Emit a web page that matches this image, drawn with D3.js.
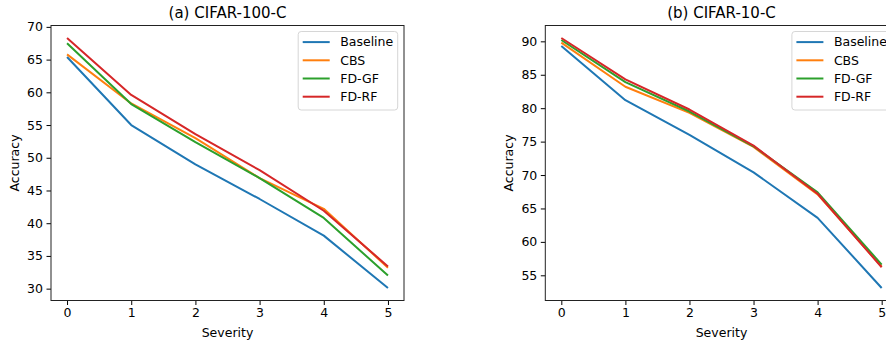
<!DOCTYPE html>
<html lang="en">
  <head>
    <meta charset="UTF-8" />
    <title>severity</title>
    <script src="https://cdn.jsdelivr.net/npm/d3@7/dist/d3.min.js"></script>
    <style>
      body { margin: 0; background: #fff; }
      text { font-family: "DejaVu Sans", sans-serif; fill: #000; }
    </style>
  </head>
  <body>
    <div id="wrapper"></div>
    <script>
      // values
      const severity = [0, 1, 2, 3, 4, 5];
      const seriesNames = ["Baseline", "CBS", "FD-GF", "FD-RF"];
      const colors = ["#1f77b4", "#ff7f0e", "#2ca02c", "#d62728"];

      const cifar100Baseline = [65.4, 55.0, 49.0, 43.7, 38.1, 30.1];
      const cifar100CBS = [65.8, 58.3, 53.0, 46.9, 42.2, 33.2];
      const cifar100FDGF = [67.5, 58.2, 52.4, 46.9, 40.8, 32.0];
      const cifar100FDRF = [68.3, 59.6, 53.6, 48.1, 41.9, 33.4];

      const cifar10Baseline = [89.3, 81.2, 76.0, 70.4, 63.6, 53.1];
      const cifar10CBS = [89.8, 83.2, 79.3, 74.2, 67.1, 56.3];
      const cifar10FDGF = [90.2, 83.9, 79.5, 74.3, 67.4, 56.6];
      const cifar10FDRF = [90.5, 84.3, 79.8, 74.4, 67.2, 56.2];

      const ticks100 = [30, 35, 40, 45, 50, 55, 60, 65, 70];
      const ticks10 = [55, 60, 65, 70, 75, 80, 85, 90];

      const width = 886;
      const height = 343;

      const svg = d3
        .select("#wrapper")
        .append("svg")
        .attr("width", width)
        .attr("height", height);

      function drawPanel(opts) {
        const { left, right, top, bottom, title, series, yTicks } = opts;
        const all = series.flat();
        const lo = d3.min(all);
        const hi = d3.max(all);
        const pad = (hi - lo) * 0.05;

        const xScale = d3.scaleLinear().domain([-0.25, 5.25]).range([left, right]);
        const yScale = d3.scaleLinear().domain([lo - pad, hi + pad]).range([bottom, top]);

        const g = svg.append("g");

        const clipId = "clip" + Math.round(left);
        g.append("clipPath")
          .attr("id", clipId)
          .append("rect")
          .attr("x", left)
          .attr("y", top)
          .attr("width", right - left)
          .attr("height", bottom - top);

        const lineGenerator = d3
          .line()
          .x((d, i) => xScale(severity[i]))
          .y((d) => yScale(d));

        series.forEach((s, i) => {
          g.append("path")
            .attr("d", lineGenerator(s))
            .attr("fill", "none")
            .attr("stroke", colors[i])
            .attr("stroke-width", 2)
            .attr("stroke-linejoin", "round")
            .attr("clip-path", `url(#${clipId})`);
        });

        const xAxis = g
          .append("g")
          .attr("transform", `translate(0,${bottom})`)
          .call(
            d3.axisBottom(xScale).tickValues(severity).tickFormat(d3.format("d"))
              .tickSize(4.5).tickPadding(3.5).tickSizeOuter(0)
          );
        const yAxis = g
          .append("g")
          .attr("transform", `translate(${left},0)`)
          .call(
            d3.axisLeft(yScale).tickValues(yTicks).tickFormat(d3.format("d"))
              .tickSize(4.5).tickPadding(3.5).tickSizeOuter(0)
          );

        [xAxis, yAxis].forEach((ax) => {
          ax.select(".domain").remove();
          ax.selectAll("line").attr("stroke", "#000").attr("stroke-width", 1);
          ax.selectAll("text")
            .style("font-family", '"DejaVu Sans", sans-serif')
            .style("font-size", "12.5px")
            .attr("fill", "#000");
        });

        // frame
        g.append("rect")
          .attr("x", left)
          .attr("y", top)
          .attr("width", right - left)
          .attr("height", bottom - top)
          .attr("fill", "none")
          .attr("stroke", "#222")
          .attr("stroke-width", 1);

        g.append("text")
          .attr("x", (left + right) / 2)
          .attr("y", top - 8)
          .attr("text-anchor", "middle")
          .style("font-size", "15px")
          .text(title);

        g.append("text")
          .attr("x", (left + right) / 2)
          .attr("y", 337)
          .attr("text-anchor", "middle")
          .style("font-size", "12.5px")
          .text("Severity");

        g.append("text")
          .attr("transform", `translate(${left - 32},${(top + bottom) / 2}) rotate(-90)`)
          .attr("text-anchor", "middle")
          .style("font-size", "12.5px")
          .text("Accuracy");

        // legend
        const legW = 99.5;
        const legX = right - 6.3 - legW;
        const legY = top + 6;
        const legend = g.append("g");
        legend
          .append("rect")
          .attr("x", legX)
          .attr("y", legY)
          .attr("width", legW)
          .attr("height", 78.5)
          .attr("rx", 3)
          .attr("fill", "#fff")
          .attr("fill-opacity", 0.8)
          .attr("stroke", "#d6d6d6")
          .attr("stroke-width", 1);
        seriesNames.forEach((name, i) => {
          const y = legY + 10.6 + i * 18.2;
          legend
            .append("line")
            .attr("x1", legX + 4.5)
            .attr("x2", legX + 31.5)
            .attr("y1", y)
            .attr("y2", y)
            .attr("stroke", colors[i])
            .attr("stroke-width", 2);
          legend
            .append("text")
            .attr("x", legX + 42)
            .attr("y", y)
            .attr("dy", "0.35em")
            .style("font-size", "12.5px")
            .text(name);
        });
      }

      drawPanel({
        left: 51,
        right: 404,
        top: 25.5,
        bottom: 300.5,
        title: "(a) CIFAR-100-C",
        series: [cifar100Baseline, cifar100CBS, cifar100FDGF, cifar100FDRF],
        yTicks: ticks100,
      });

      drawPanel({
        left: 545.3,
        right: 897.7,
        top: 25.5,
        bottom: 300.5,
        title: "(b) CIFAR-10-C",
        series: [cifar10Baseline, cifar10CBS, cifar10FDGF, cifar10FDRF],
        yTicks: ticks10,
      });
    </script>
  </body>
</html>
